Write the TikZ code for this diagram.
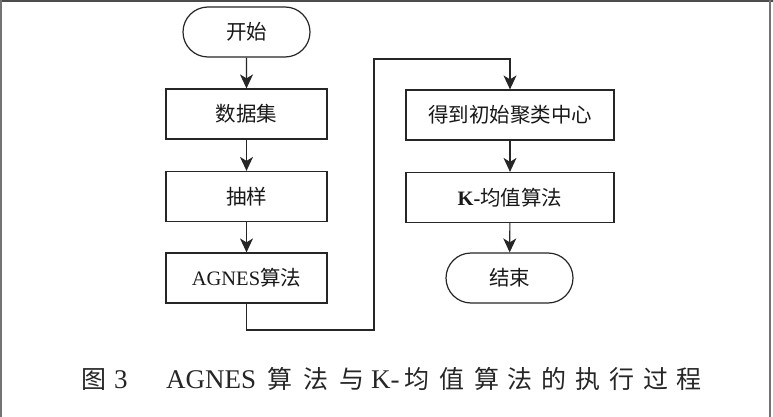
\documentclass[tikz,border=0pt]{standalone}
\usepackage{fontspec}
\setmainfont{Liberation Serif}
\newfontfamily\zh{Noto Sans CJK SC}
\usetikzlibrary{arrows.meta,shapes.misc}
\begin{document}
\begin{tikzpicture}[x=1pt,y=-1pt,
  box/.style={draw=black!85,line width=1.2pt,minimum width=161pt,minimum height=50pt,
    inner sep=0pt,font=\fontsize{20.5pt}{20.5pt}\selectfont,text=black!90},
  widebox/.style={box,minimum width=208pt},
  term/.style={box,rounded rectangle,minimum width=127pt},
  arr/.style={draw=black!85,line width=1.1pt,-{Stealth[length=14pt,width=13pt,inset=4pt]}},
  frameline/.style={draw=black!70,line width=1.6pt}
]
\useasboundingbox (0,0) rectangle (773,417);
\fill[white] (0,0) rectangle (773,417);
% frame
\draw[frameline,line width=2.2pt] (0,1) -- (773,1);
\draw[frameline,draw=black!55] (1,0) -- (1,417);
\draw[frameline,draw=black!55] (770,0) -- (770,417);

% left column
\node[term] (start) at (246.5,32) {\zh 开始};
\node[box] (data) at (246.5,114) {\zh 数据集};
\node[box] (sample) at (246.5,196.5) {\zh 抽样};
\node[box] (agnes) at (246.5,278) {AGNES{\zh 算法}};
% right column
\node[widebox] (init) at (510,115) {\zh 得到初始聚类中心};
\node[widebox] (kmeans) at (510,197.5) {\textbf{K-}{\zh 均值算法}};
\node[term] (stop) at (509.5,278) {\zh 结束};

\coordinate (c1) at (374,330);
\coordinate (c2) at (374,59);

\draw[arr] (start) -- (data);
\draw[arr] (data) -- (sample);
\draw[arr] (sample) -- (agnes);
\draw[arr] (agnes.south) |- (c1) -- (c2) -| (init.north);
\draw[arr] (init) -- (kmeans);
\draw[arr] (kmeans) -- (stop);

% caption
\node[anchor=base west,inner sep=0pt,text=black!85] (caption) at (81,388) {%
  \fontsize{25pt}{25pt}\selectfont
  \rlap{\zh 图}\hspace{33pt}%
  \rlap{\fontsize{27pt}{27pt}\selectfont 3}\hspace{52pt}%
  \rlap{\fontsize{27pt}{27pt}\selectfont AGNES}\hspace{101pt}%
  \rlap{\zh 算}\hspace{36pt}%
  \rlap{\zh 法}\hspace{36pt}%
  \rlap{\zh 与}\hspace{32pt}%
  \rlap{\fontsize{27pt}{27pt}\selectfont K-}\hspace{33pt}%
  \rlap{\zh 均}\hspace{35pt}%
  \rlap{\zh 值}\hspace{35pt}%
  \rlap{\zh 算}\hspace{33pt}%
  \rlap{\zh 法}\hspace{34pt}%
  \rlap{\zh 的}\hspace{34pt}%
  \rlap{\zh 执}\hspace{34pt}%
  \rlap{\zh 行}\hspace{34pt}%
  \rlap{\zh 过}\hspace{33pt}%
  {\zh 程}};
\end{tikzpicture}
\end{document}
